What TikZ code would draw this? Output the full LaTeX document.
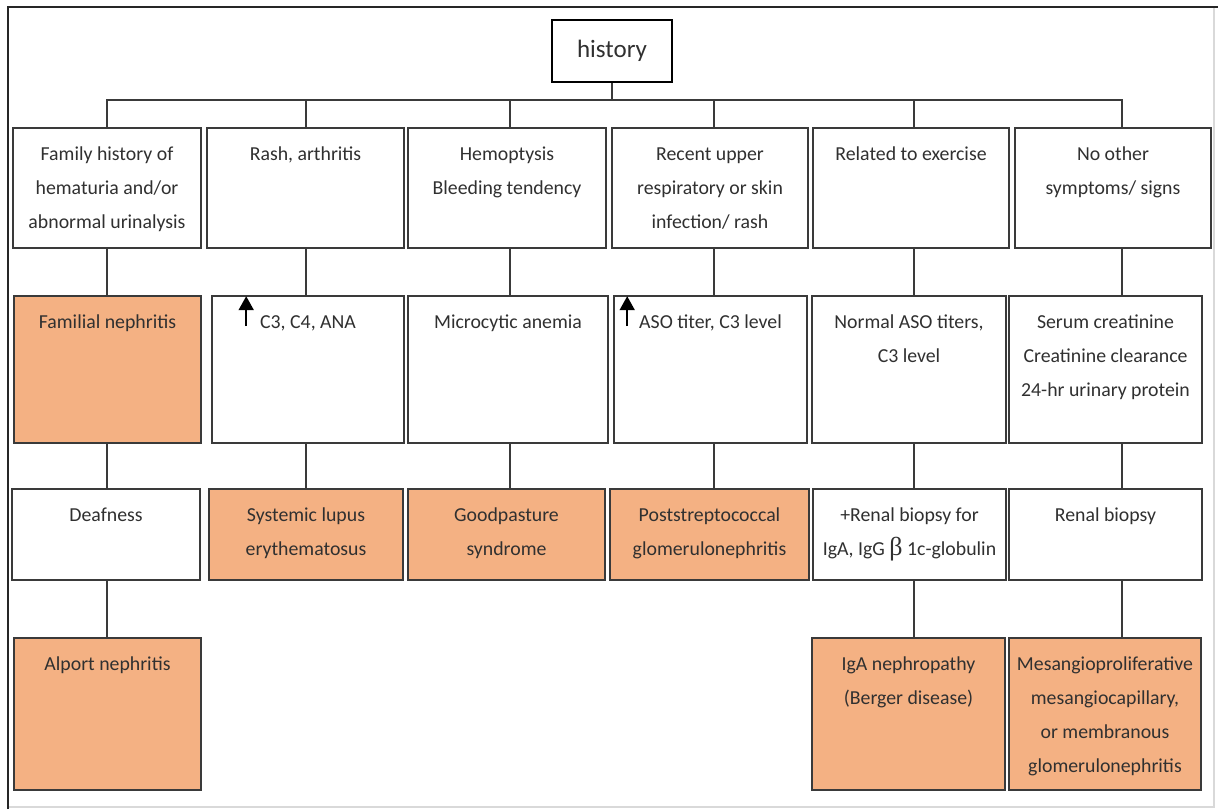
\documentclass[tikz,border=0pt]{standalone}
\usepackage{fontspec}
\setmainfont{Carlito}
\newfontfamily\greekserif{Liberation Serif}
\usetikzlibrary{calc,arrows.meta}
\definecolor{peach}{RGB}{244,177,131}
\definecolor{edge}{RGB}{58,58,58}
\definecolor{ink}{RGB}{48,48,48}

% \bx{name}{x1}{y1}{x2}{y2}{style}{text}: a box with its text set from the top
\newcommand{\bx}[7]{%
  \node[#6, minimum width={#4-#2}, minimum height={#5-#3}] (#1) at ({(#2+#4)/2},{(#3+#5)/2}) {};
  \node[txt] (#1-t) at ($(#1.north)+(0,19)$) {\rule{0pt}{14pt}#7};
}

\begin{document}
\begin{tikzpicture}[x=1pt,y=-1pt,
  box/.style={draw=edge,line width=1.6pt,inner sep=0pt,fill=white},
  dx/.style={box,fill=peach},
  txt/.style={inner sep=0pt,anchor=north,align=center,text=ink,font=\fontsize{19.8}{34}\selectfont},
  link/.style={draw=edge,line width=1.5pt},
  up/.style={draw=black,line width=2pt,-{Triangle[width=15pt,length=14pt]}}]

\useasboundingbox (0,0) rectangle (1218,809);

% outer frame
\draw[black!85,line width=2pt] (8,809) -- (8,7) -- (1218,7);
\draw[black!15,line width=1.2pt] (1214,8) -- (1214,807) -- (9,807);

% root
\node[draw=black,line width=2.6pt,minimum width=120pt,minimum height=62pt,inner sep=0pt,
      text=ink,font=\fontsize{25}{25}\selectfont] (hist) at (612,51) {history};

% columns of the tree
\coordinate (bus) at (0,100);
\coordinate (colA) at (107,0);
\coordinate (colB) at (306,0);
\coordinate (colC) at (510,0);
\coordinate (colD) at (714,0);
\coordinate (colE) at (914,0);
\coordinate (colF) at (1122,0);

% row 1: findings in the history
\bx{r1a}{13}{128}{201}{248}{box}{Family history of\\hematuria and/or\\abnormal urinalysis}
\bx{r1b}{207}{128}{404}{248}{box}{Rash, arthritis}
\bx{r1c}{408}{128}{606}{248}{box}{Hemoptysis\\Bleeding tendency}
\bx{r1d}{612}{128}{808}{248}{box}{Recent upper\\respiratory or skin\\infection/ rash}
\bx{r1e}{813}{128}{1009}{248}{box}{Related to exercise}
\bx{r1f}{1015}{128}{1211}{248}{box}{No other\\symptoms/ signs}

% row 2: tests
\bx{r2a}{14}{296}{201}{443}{dx}{Familial nephritis}
\bx{r2b}{212}{296}{404}{443}{box}{C3, C4, ANA}
\bx{r2c}{408}{296}{608}{443}{box}{Microcytic anemia}
\bx{r2d}{614}{296}{807}{443}{box}{ASO titer, C3 level}
\bx{r2e}{812}{296}{1006}{443}{box}{Normal ASO titers,\\C3 level}
\bx{r2f}{1009}{296}{1202}{443}{box}{Serum creatinine\\Creatinine clearance\\24-hr urinary protein}

% row 3
\bx{r3a}{12}{489}{200}{580}{box}{Deafness}
\bx{r3b}{209}{489}{403}{580}{dx}{Systemic lupus\\erythematosus}
\bx{r3c}{408}{489}{605}{580}{dx}{Goodpasture\\syndrome}
\bx{r3d}{610}{489}{809}{580}{dx}{Poststreptococcal\\glomerulonephritis}
\bx{r3e}{813}{489}{1006}{580}{box}{+Renal biopsy for\\IgA, IgG {\greekserif\fontsize{26}{26}\selectfont β} 1c-globulin}
\bx{r3f}{1009}{489}{1202}{580}{box}{Renal biopsy}

% row 4
\bx{r4a}{14}{638}{201}{790}{dx}{Alport nephritis}
\bx{r4e}{812}{638}{1005}{790}{dx}{IgA nephropathy\\(Berger disease)}
\bx{r4f}{1009}{638}{1201}{790}{dx}{Mesangioproliferative\\mesangiocapillary,\\or membranous\\glomerulonephritis}

% raised-level arrows
\draw[up] ($(r2b.north west)+(35,31)$) -- ++(0,-30);
\draw[up] ($(r2d.north west)+(14,31)$) -- ++(0,-30);

% connectors
\draw[link] (hist.south) -- (hist.south |- bus);
\draw[link] (colA |- r1a.north) -- (colA |- bus) -- (colF |- bus) -- (colF |- r1f.north);
\foreach \c/\n in {B/b,C/c,D/d,E/e}
  \draw[link] (col\c |- bus) -- (col\c |- r1\n.north);
\foreach \c/\n in {A/a,B/b,C/c,D/d,E/e,F/f} {
  \draw[link] (col\c |- r1\n.south) -- (col\c |- r2\n.north);
  \draw[link] (col\c |- r2\n.south) -- (col\c |- r3\n.north);
}
\foreach \c/\n in {A/a,E/e,F/f}
  \draw[link] (col\c |- r3\n.south) -- (col\c |- r4\n.north);

\end{tikzpicture}
\end{document}
